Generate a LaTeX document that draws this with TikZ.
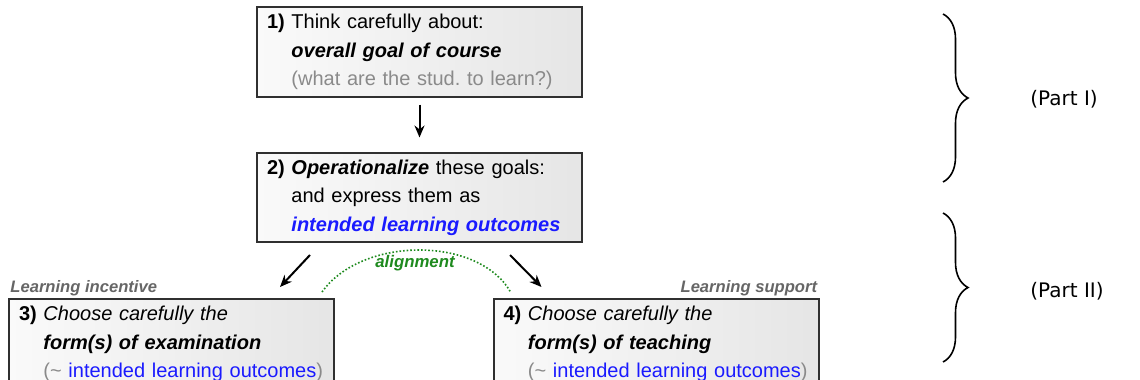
\documentclass[tikz,border=0pt]{standalone}
\usepackage{fontspec}
\setmainfont{Liberation Sans}
\newfontfamily\partfont{DejaVu Sans}
\usepackage{tikz}
\usetikzlibrary{positioning}
\usetikzlibrary{calc}
\usetikzlibrary{arrows.meta}
\usetikzlibrary{decorations.pathreplacing}
\definecolor{boxline}{HTML}{303030}
\definecolor{softgray}{HTML}{8A8A8A}
\definecolor{labelgray}{HTML}{666666}
\definecolor{iloblue}{HTML}{1A1AFF}
\definecolor{aligngreen}{HTML}{1E8A1E}
\tikzset{
	stepbox/.style={draw=boxline, line width=1pt, rectangle, left color=gray!4, right color=gray!20,
		text width=152.5pt, align=left, minimum height=44.5pt, inner xsep=5pt, inner ysep=1pt,
		font=\fontsize{10}{14.25}\selectfont},
	flow/.style={-{Stealth[length=6pt,width=5pt]}, line width=1pt, black},
	sidelabel/.style={font=\fontsize{8.3}{9}\selectfont\bfseries\itshape, text=labelgray, inner sep=1pt},
	bracepath/.style={decorate, decoration={brace, amplitude=12.5pt}, line width=0.8pt},
	partlabel/.style={font=\partfont\fontsize{10}{12}\selectfont, anchor=west, inner sep=0pt}
}
\newcommand{\steptext}[4]{\begin{tabular}{@{}l@{ }l@{}}\textbf{#1} & #2\\ & #3\\ & #4\end{tabular}}
\newcommand{\ilo}{(\textasciitilde{} \textcolor{iloblue}{intended learning outcomes})}

\begin{document}
\begin{tikzpicture}[x=0.5pt, y=-0.5pt]
	\useasboundingbox (0,0) rectangle (1140,380);
	% Part I
	\node [stepbox, anchor=north west] at (256,6) (box1)
		{\steptext{1)}{Think carefully about:}{\textbf{\textit{overall goal of course}}}{\textcolor{softgray}{(what are the stud.\ to learn?)}}};
	\node [stepbox, below=27pt of box1] (box2)
		{\steptext{2)}{\textbf{\textit{Operationalize}} these goals:}{and express them as}{\textcolor{iloblue}{\textbf{\textit{intended learning outcomes}}}}};
	% Part II
	\node [stepbox, below=27.5pt of box2.south, xshift=-124pt] (box3)
		{\steptext{3)}{\textit{Choose carefully the}}{\textbf{\textit{form(s) of examination}}}{\textcolor{softgray}{\ilo}}};
	\node [stepbox, below=27.5pt of box2.south, xshift=118.25pt] (box4)
		{\steptext{4)}{\textit{Choose carefully the}}{\textbf{\textit{form(s) of teaching}}}{\textcolor{softgray}{\ilo}}};
	% Labels over the lower boxes
	\node [sidelabel, above right=0pt and 0pt of box3.north west, anchor=south west] (incentive) {Learning incentive};
	\node [sidelabel, above left=0pt and 0pt of box4.north east, anchor=south east] (support) {Learning support};
	
	% Arrows
	\coordinate (l2s) at ($(box2.south west)+(27pt,-6pt)$);
	\coordinate (l3e) at ($(box3.north east)+(-27.5pt,5.5pt)$);
	\coordinate (r2s) at ($(box2.south east)+(-36.5pt,-6pt)$);
	\coordinate (r4e) at ($(box4.north west)+(24.5pt,5.5pt)$);
	\draw [flow, shorten <=3.5pt, shorten >=7pt] (box1) -- (box2);
	\draw [flow] (l2s) -- (l3e);
	\draw [flow] (r2s) -- (r4e);
	
	% Alignment arc
	\coordinate (arcL) at ($(box3.north east)+(-6.5pt,3pt)$);
	\coordinate (arcR) at ($(box4.north west)+(9pt,3pt)$);
	\draw [aligngreen, densely dotted, line width=0.8pt] (arcL) .. controls ($(arcL)+(20pt,28pt)$) and ($(arcR)+(-16pt,28pt)$) .. (arcR);
	\node [font=\fontsize{8.4}{9}\selectfont\bfseries\itshape, text=aligngreen, inner sep=0pt] at (415,263) (align) {alignment};
	
	% Braces
	\coordinate (b1t) at (943,14);
	\coordinate (b1b) at (943,182);
	\coordinate (b2t) at (943,213);
	\coordinate (b2b) at (943,362);
	\draw [bracepath] (b1t) -- (b1b);
	\draw [bracepath] (b2t) -- (b2b);
	\node [partlabel] at (1030,99) (part1) {(Part I)};
	\node [partlabel] at (1030,291) (part2) {(Part II)};
\end{tikzpicture}
\end{document}
